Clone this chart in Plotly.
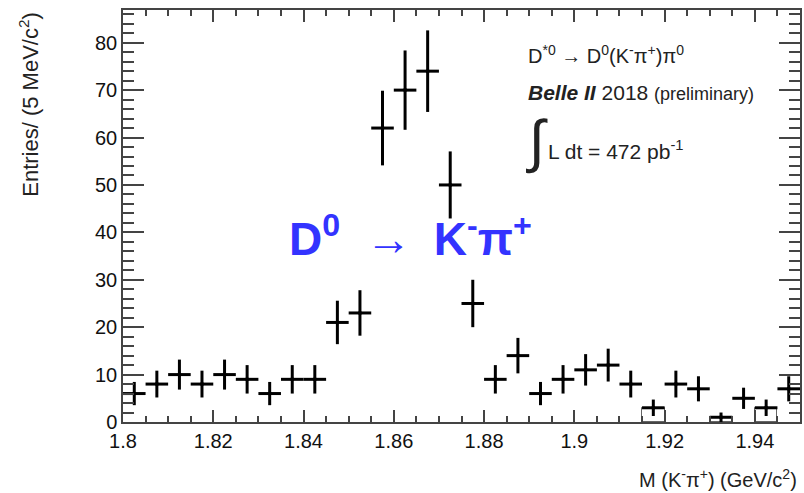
import numpy as np
import plotly.graph_objects as go

# Data: bin centres (GeV/c^2) and entries per 5 MeV/c^2 bin
mass = [1.8025, 1.8075, 1.8125, 1.8175, 1.8225, 1.8275, 1.8325, 1.8375, 1.8425, 1.8475,
        1.8525, 1.8575, 1.8625, 1.8675, 1.8725, 1.8775, 1.8825, 1.8875, 1.8925, 1.8975,
        1.9025, 1.9075, 1.9125, 1.9175, 1.9225, 1.9275, 1.9325, 1.9375, 1.9425, 1.9475]
entries = [6, 8, 10, 8, 10, 9, 6, 9, 9, 21,
           23, 62, 70, 74, 50, 25, 9, 14, 6, 9,
           11, 12, 8, 3, 8, 7, 1, 5, 3, 7]
# faint outlined bins visible in the tail
outline_mass = [1.9175, 1.9325, 1.9425]
outline_entries = [3, 1, 3]
bin_width = 0.005
errors = [float(np.sqrt(v)) for v in entries]
x_range = [1.8, 1.95]
y_range = [0, 86.9]

FONT = "Liberation Sans, Arial, sans-serif"
W, H = 804, 493
L, R, T, B = 123, 2, 10, 71
PW, PH = W - L - R, H - T - B
AX = "#444444"


def px(xp):
    return (xp - L) / PW


def py(yp):
    return (H - B - yp) / PH


fig = go.Figure()
fig.add_trace(go.Bar(
    x=outline_mass, y=outline_entries, width=bin_width,
    marker=dict(color="rgba(0,0,0,0)", line=dict(color="#666666", width=1)),
    showlegend=False, hoverinfo="skip",
))
fig.add_trace(go.Scatter(
    x=mass, y=entries, mode="markers",
    marker=dict(color="black", size=4),
    error_y=dict(type="data", array=errors, visible=True, color="black", thickness=3, width=0),
    error_x=dict(type="constant", value=bin_width / 2, visible=True, color="black", thickness=3, width=0),
    showlegend=False, hoverinfo="x+y",
))
# invisible trace so the mirrored (top/right) tick axes are drawn
fig.add_trace(go.Scatter(x=x_range, y=y_range, xaxis="x2", yaxis="y2", mode="markers",
                         marker=dict(opacity=0), showlegend=False, hoverinfo="skip"))

tick_common = dict(showgrid=False, zeroline=False, ticks="inside", tickcolor=AX, tickwidth=1.5)
xt = dict(range=x_range, dtick=0.02, tick0=1.8, ticklen=12,
          minor=dict(ticks="inside", dtick=0.005, tick0=1.8, ticklen=6, tickcolor=AX, tickwidth=1.5))
yt = dict(range=y_range, dtick=10, tick0=0, ticklen=21,
          minor=dict(ticks="inside", dtick=2, tick0=0, ticklen=11, tickcolor=AX, tickwidth=1.5))

fig.update_layout(
    xaxis=dict(**xt, **tick_common, showline=True, linecolor=AX, linewidth=1.5, mirror=True,
               tickfont=dict(family=FONT, size=20, color="#111111")),
    yaxis=dict(**yt, **tick_common, showline=True, linecolor=AX, linewidth=1.5, mirror=True,
               tickfont=dict(family=FONT, size=20, color="#111111")),
    xaxis2=dict(**xt, **tick_common, overlaying="x", side="top", showticklabels=False, showline=False),
    yaxis2=dict(**yt, **tick_common, overlaying="y", side="right", showticklabels=False, showline=False),
    bargap=0,
)

ann = []
# axis titles
ann.append(dict(text="Entries/ (5 MeV/c<sup>2</sup>)", textangle=-90, xref="paper", yref="paper",
                x=px(28), y=1.0, xanchor="center", yanchor="top", showarrow=False,
                font=dict(family=FONT, size=22, color="#222222")))
ann.append(dict(text="M (K<sup>-</sup>π<sup>+</sup>) (GeV/c<sup>2</sup>)", xref="paper", yref="paper",
                x=px(801), y=py(478), xanchor="right", yanchor="middle", showarrow=False,
                font=dict(family=FONT, size=20, color="#222222")))
# top-right text block
ann.append(dict(text="D<sup>*0</sup> → D<sup>0</sup>(K<sup>-</sup>π<sup>+</sup>)π<sup>0</sup>",
                xref="paper", yref="paper", x=px(527), y=py(55), xanchor="left", yanchor="middle",
                showarrow=False, font=dict(family=FONT, size=20, color="#222222")))
ann.append(dict(text="<b><i>Belle II</i></b> 2018 <span style='font-size:18px'>(preliminary)</span>",
                xref="paper", yref="paper", x=px(527), y=py(92), xanchor="left", yanchor="middle",
                showarrow=False, font=dict(family=FONT, size=21, color="#222222")))
ann.append(dict(text="∫", xref="paper", yref="paper", x=px(525), y=py(141), xanchor="left",
                yanchor="middle", showarrow=False,
                font=dict(family="Liberation Sans", size=58, color="#222222")))
ann.append(dict(text="L dt = 472 pb<sup>-1</sup>", xref="paper", yref="paper", x=px(547), y=py(150),
                xanchor="left", yanchor="middle", showarrow=False,
                font=dict(family=FONT, size=21, color="#222222")))
# big blue label
ann.append(dict(text="<b>D<sup>0</sup></b>&nbsp;&nbsp;→&nbsp;\u2009<b>K<sup>-</sup>π<sup>+</sup></b>",
                xref="paper", yref="paper", x=px(287), y=py(236), xanchor="left", yanchor="middle",
                showarrow=False, font=dict(family=FONT, size=46, color="#3333ff")))

fig.update_layout(
    width=W, height=H, margin=dict(l=L, r=R, t=T, b=B),
    paper_bgcolor="white", plot_bgcolor="white",
    annotations=ann,
)

fig.write_html("out.html")
